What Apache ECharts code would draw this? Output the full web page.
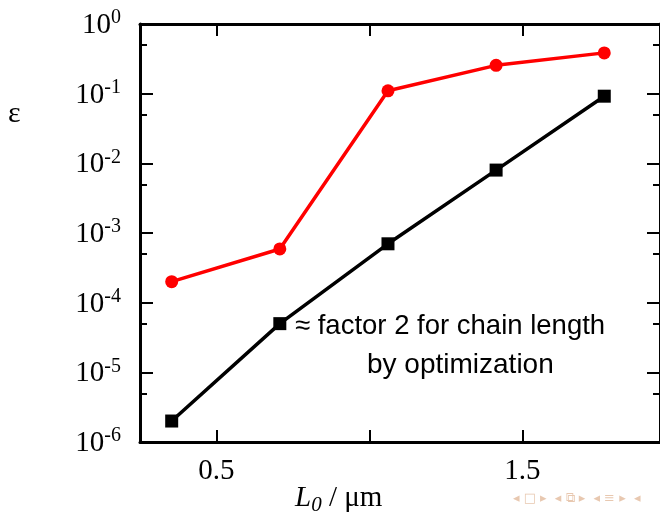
<!DOCTYPE html>
<html>
<head>
<meta charset="utf-8">
<script src="https://cdn.jsdelivr.net/npm/echarts@6/dist/echarts.min.js"></script>
<style>html,body{margin:0;padding:0;background:#fff}#c{width:660px;height:524px}</style>
</head>
<body>
<div id="c"></div>
<script>
// ---- data ----
var xValues = [0.3536, 0.7071, 1.0607, 1.4142, 1.7678];
var redValues = [2.0e-4, 5.9e-4, 0.11, 0.255, 0.385];
var blackValues = [2.0e-6, 5.0e-5, 7.0e-4, 8.0e-3, 0.092];
var yMajorTicks = [1e-6, 1e-5, 1e-4, 1e-3, 1e-2, 1e-1, 1];
var yMinorTicks = [5e-6, 5e-5, 5e-4, 5e-3, 5e-2, 0.5];
var xTicks = [0.5, 1.0, 1.5];
var xTickLabels = [0.5, 1.5];
var annotationLines = ['\u2248 factor 2 for chain length', 'by optimization'];

var chart = echarts.init(document.getElementById('c'), null, {renderer: 'canvas'});
var serif = 'Liberation Serif';
var sans = 'Liberation Sans';

function pairs(xs, ys) { return xs.map(function (x, i) { return [x, ys[i]]; }); }

function yAxisDef(pos, ticks, len, showLine, showLabel) {
  return {
    type: 'log', logBase: 10, position: pos, min: 1e-6, max: 1,
    axisLine: {show: showLine, lineStyle: {color: '#000', width: 3}},
    axisTick: {show: true, inside: true, length: len, customValues: ticks, lineStyle: {color: '#000', width: 2}},
    minorTick: {show: false},
    splitLine: {show: false},
    axisLabel: {
      show: showLabel, customValues: ticks, margin: 19,
      formatter: function (v) { return '{b|10}{s|' + Math.round(Math.log10(v)) + '}'; },
      rich: {
        b: {fontFamily: serif, fontSize: 29, color: '#000', verticalAlign: 'bottom', lineHeight: 32, padding: [8, 0, 0, 0]},
        s: {fontFamily: serif, fontSize: 20, color: '#000', verticalAlign: 'top', lineHeight: 20}
      }
    }
  };
}

function xAxisDef(pos, showLabel) {
  return {
    type: 'value', position: pos, min: 0.25, max: 1.95,
    axisLine: {show: true, onZero: false, lineStyle: {color: '#000', width: 3}},
    axisTick: {show: true, inside: true, length: 12, customValues: xTicks, lineStyle: {color: '#000', width: 2}},
    splitLine: {show: false},
    axisLabel: {show: showLabel, customValues: xTickLabels, margin: 15,
      fontFamily: serif, fontSize: 29, color: '#000',
      formatter: function (v) { return String(v); }}
  };
}

chart.setOption({
  animation: false,
  backgroundColor: '#fff',
  grid: {left: 140, top: 24, width: 523, height: 418, containLabel: false},
  xAxis: [xAxisDef('bottom', true), xAxisDef('top', false)],
  yAxis: [
    yAxisDef('left', yMajorTicks, 13, true, true),
    yAxisDef('left', yMinorTicks, 7, false, false),
    yAxisDef('right', yMajorTicks, 13, true, false),
    yAxisDef('right', yMinorTicks, 7, false, false)
  ],
  series: [
    {
      type: 'line', xAxisIndex: 0, yAxisIndex: 0,
      data: pairs(xValues, redValues),
      symbol: 'circle', symbolSize: 13,
      lineStyle: {color: '#ff0000', width: 3.5},
      itemStyle: {color: '#ff0000'}, z: 3
    },
    {
      type: 'line', xAxisIndex: 0, yAxisIndex: 0,
      data: pairs(xValues, blackValues),
      symbol: 'rect', symbolSize: 13,
      lineStyle: {color: '#000', width: 3.5},
      itemStyle: {color: '#000'}, z: 3
    }
  ],
  graphic: [
    {type: 'text', left: 8, top: 99, style: {text: '\u03b5', font: '30px "Liberation Serif"', fill: '#000'}},
    {type: 'text', left: 295, top: 484, style: {
      text: '{l|L}{sub|0}{n| / \u03bcm}',
      rich: {
        l: {fontFamily: serif, fontStyle: 'italic', fontSize: 29, fill: '#000', verticalAlign: 'top', lineHeight: 32},
        sub: {fontFamily: serif, fontStyle: 'italic', fontSize: 21, fill: '#000', verticalAlign: 'bottom', lineHeight: 20},
        n: {fontFamily: serif, fontSize: 29, fill: '#000', verticalAlign: 'top', lineHeight: 32}
      }
    }},
    {type: 'text', left: 295, top: 312, style: {text: annotationLines[0], font: '27.5px "Liberation Sans"', fill: '#000'}},
    {type: 'text', left: 367, top: 351, style: {text: annotationLines[1], font: '28px "Liberation Sans"', fill: '#000'}},
    {type: 'text', left: 513, top: 492, style: {text: '\u25c2 \u25a1 \u25b8  \u25c2 \u29c9 \u25b8  \u25c2 \u2261 \u25b8  \u25c2', font: '13px "DejaVu Sans"', fill: '#e8c8b0'}}
  ]
});
</script>
</body>
</html>
